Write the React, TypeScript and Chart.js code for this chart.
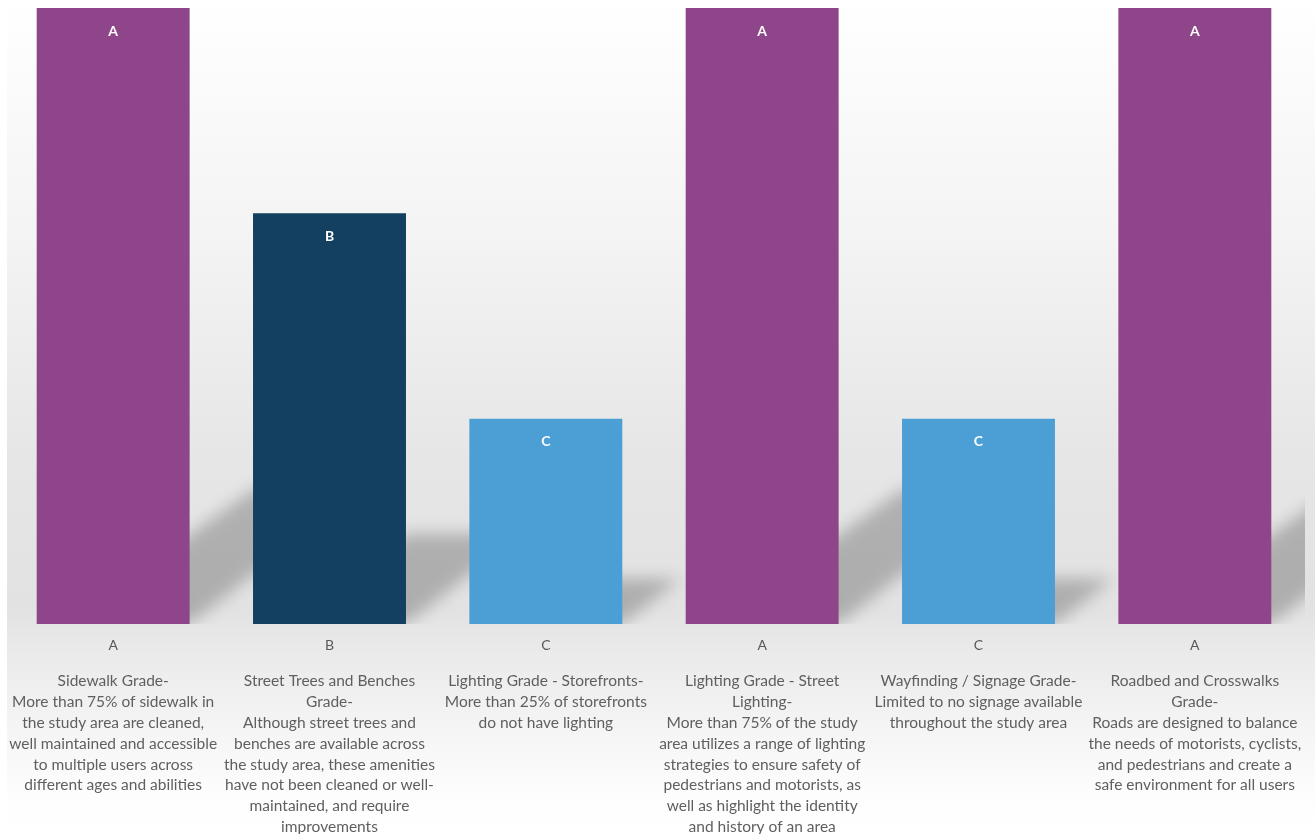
import React, { useEffect, useRef } from "react";
import { Chart, registerables } from "chart.js";

Chart.register(...registerables);

// Grade per category and the score each grade is plotted at
const grades = ["A", "B", "C", "A", "C", "A"];
const gradeScores = [3, 2, 1, 3, 1, 3];

// Description shown under each grade, already broken into lines
const descriptions = [
  [
    "Sidewalk Grade-",
    "More than 75% of sidewalk in",
    "the study area are cleaned,",
    "well maintained and accessible",
    "to multiple users across",
    "different ages and abilities",
  ],
  [
    "Street Trees and Benches",
    "Grade-",
    "Although street trees and",
    "benches are available across",
    "the study area, these amenities",
    "have not been cleaned or well-",
    "maintained, and require",
    "improvements",
  ],
  [
    "Lighting Grade - Storefronts-",
    "More than 25% of storefronts",
    "do not have lighting",
  ],
  [
    "Lighting Grade - Street",
    "Lighting-",
    "More than 75% of the study",
    "area utilizes a range of lighting",
    "strategies to ensure safety of",
    "pedestrians and motorists, as",
    "well as highlight the identity",
    "and history of an area",
  ],
  [
    "Wayfinding / Signage Grade-",
    "Limited to no signage available",
    "throughout the study area",
  ],
  [
    "Roadbed and Crosswalks",
    "Grade-",
    "Roads are designed to balance",
    "the needs of motorists, cyclists,",
    "and pedestrians and create a",
    "safe environment for all users",
  ],
];

const gradeColors: Record<string, string> = {
  A: "#8E4589",
  B: "#133F60",
  C: "#4B9FD5",
};

const WIDTH = 1315;
const HEIGHT = 834;
const FONT = "Lato, 'Open Sans', sans-serif";

// Soft grey backdrop behind the whole chart
const backdropPlugin = {
  id: "backdrop",
  beforeDraw(chart: any) {
    const { ctx, width, height } = chart;
    const g = ctx.createLinearGradient(0, 0, 0, height);
    g.addColorStop(0, "#ffffff");
    g.addColorStop(0.3, "#f3f3f3");
    g.addColorStop(0.55, "#e6e6e6");
    g.addColorStop(0.73, "#e2e2e2");
    g.addColorStop(0.78, "#eaeaea");
    g.addColorStop(0.86, "#f3f3f3");
    g.addColorStop(0.95, "#fdfdfd");
    g.addColorStop(1, "#ffffff");
    ctx.save();
    ctx.fillStyle = g;
    ctx.fillRect(7, 0, width - 7, height);
    ctx.restore();
  },
};

// Slanted, blurred floor shadow cast up and to the right of every bar.
// The shape is drawn far off-canvas so only its canvas shadow lands here.
const SHIFT = 10000;
const barShadowPlugin = {
  id: "barShadow",
  beforeDatasetsDraw(chart: any) {
    const { ctx, chartArea } = chart;
    const meta = chart.getDatasetMeta(0);
    ctx.save();
    ctx.beginPath();
    ctx.rect(chartArea.left, chartArea.top, chartArea.width + 2, chartArea.height);
    ctx.clip();
    ctx.fillStyle = "#000";
    ctx.shadowColor = "rgba(0,0,0,0.23)";
    ctx.shadowBlur = 16;
    ctx.shadowOffsetX = SHIFT;
    ctx.shadowOffsetY = 0;
    meta.data.forEach((el: any) => {
      const { x, y, base, width } = el.getProps(["x", "y", "base", "width"], true);
      const l = x - width / 2 - SHIFT + width * 0.18;
      const r = x + width / 2 - SHIFT;
      const h = base - y;
      const dy = h * 0.22;
      const dxRight = dy / 0.78;
      const dxLeft = dy / 0.71;
      ctx.beginPath();
      ctx.moveTo(l, base);
      ctx.lineTo(r, base);
      ctx.lineTo(r + dxRight, base - dy);
      ctx.lineTo(l + dxLeft, base - dy);
      ctx.closePath();
      ctx.fill();
    });
    ctx.restore();
  },
};

// Grade letter written inside the top of each bar
const gradeLabelPlugin = {
  id: "gradeLabel",
  afterDatasetsDraw(chart: any) {
    const { ctx } = chart;
    const meta = chart.getDatasetMeta(0);
    ctx.save();
    ctx.fillStyle = "#ffffff";
    ctx.font = `bold 14px ${FONT}`;
    ctx.textAlign = "center";
    ctx.textBaseline = "middle";
    meta.data.forEach((el: any, i: number) => {
      const { x, y } = el.getProps(["x", "y"], true);
      ctx.fillText(grades[i], x, y + 23);
    });
    ctx.restore();
  },
};

export default function App() {
  const canvasRef = useRef<HTMLCanvasElement | null>(null);

  useEffect(() => {
    if (!canvasRef.current) return;
    const chart = new Chart(canvasRef.current, {
      type: "bar",
      data: {
        labels: grades,
        datasets: [
          {
            data: gradeScores,
            backgroundColor: grades.map((g) => gradeColors[g]),
            borderWidth: 0,
            barPercentage: 0.707,
            categoryPercentage: 1,
            xAxisID: "x",
          },
        ],
      },
      options: {
        responsive: false,
        animation: false,
        layout: { padding: { left: 5, right: 12, top: 8, bottom: 0 } },
        plugins: {
          legend: { display: false },
          tooltip: { enabled: false },
        },
        scales: {
          y: { display: false, min: 0, max: 3 },
          x: {
            position: "bottom",
            weight: 0,
            offset: true,
            grid: { display: false, drawTicks: false },
            border: { display: false },
            ticks: {
              color: "#595959",
              font: { family: FONT, size: 14, lineHeight: 1.2 },
              padding: 13,
              autoSkip: false,
              maxRotation: 0,
              minRotation: 0,
            },
            afterFit(scale: any) {
              scale.height = 40;
            },
          },
          x2: {
            type: "category",
            position: "bottom",
            weight: 1,
            offset: true,
            labels: descriptions as any,
            grid: { display: false, drawTicks: false },
            border: { display: false },
            ticks: {
              color: "#5f5f5f",
              font: { family: FONT, size: 15.5, lineHeight: "20.8px" },
              padding: 7,
              autoSkip: false,
              maxRotation: 0,
              minRotation: 0,
            },
            afterFit(scale: any) {
              scale.height = 170;
            },
          },
        },
      },
      plugins: [backdropPlugin, barShadowPlugin, gradeLabelPlugin],
    });
    return () => chart.destroy();
  }, []);

  return (
    <div style={{ position: "fixed", left: 0, top: 0, width: WIDTH, height: HEIGHT }}>
      <canvas ref={canvasRef} width={WIDTH} height={HEIGHT} style={{ width: WIDTH, height: HEIGHT }} />
    </div>
  );
}
